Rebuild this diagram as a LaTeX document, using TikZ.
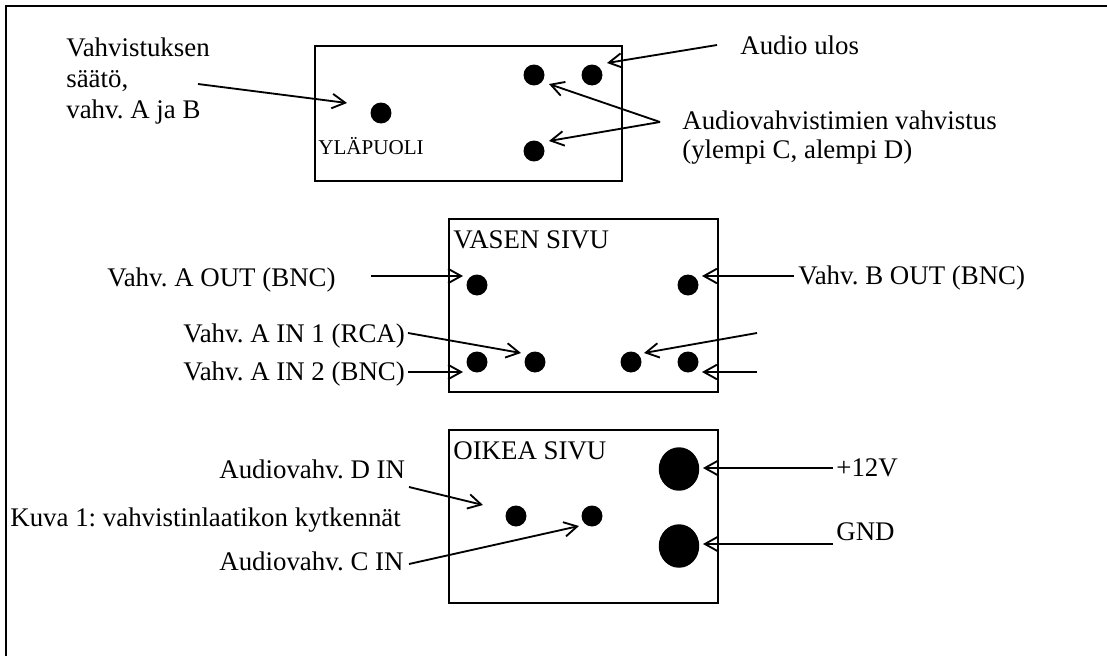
\documentclass[tikz,border=0pt]{standalone}
\usepackage{fontspec}
\setmainfont{Liberation Serif}
\usetikzlibrary{arrows.meta, shapes.geometric}
\tikzset{
  labeltext/.style={anchor=base west, inner sep=0pt, font=\fontsize{15.3}{17.4}\selectfont\frenchspacing},
  smalltext/.style={anchor=base west, inner sep=0pt, font=\fontsize{12}{14}\selectfont\frenchspacing},
  housing/.style={draw=black, line width=1.1pt, anchor=north west, inner sep=0pt},
  jack/.style={circle, fill=black, inner sep=0pt, minimum size=0.42cm},
  powerjack/.style={ellipse, fill=black, inner sep=0pt, minimum width=0.81cm, minimum height=0.87cm},
  lead/.style={-{Straight Barb[length=2.6mm, width=2.9mm]}, line width=1.05pt, black}
}

\begin{document}
\begin{tikzpicture}[x=0.02cm, y=-0.02cm]
\useasboundingbox (0,0) rectangle (1107,656);

% ── Frame ─────────────────────────────────────────────────────────────────────
\draw[line width=1.1pt] (6,656) -- (6,6) -- (1107,6);

% ── Top side ──────────────────────────────────────────────────────────────────
\node[housing, minimum width=6.14cm, minimum height=2.70cm] (topbox) at (314,45) {};
\node[smalltext] (toptitle) at (318,154) {YLÄPUOLI};
\node[jack] (gainAB) at (381,113) {};
\node[jack] (gainC) at (534,75) {};
\node[jack] (audioOut) at (592,75) {};
\node[jack] (gainD) at (534,151) {};

\node[labeltext, align=left] (gainlabel) at (66,118) {Vahvistuksen\\säätö,\\vahv. A ja B};
\node[labeltext] (audiolabel) at (740,54) {Audio ulos};
\node[labeltext, align=left, font=\fontsize{15.3}{16.5}\selectfont\frenchspacing] (audiogain) at (682,158) {Audiovahvistimien vahvistus\\(ylempi C, alempi D)};

\coordinate (gainTail) at (198,84);
\coordinate (gainTip) at (347,103);
\coordinate (audioTail) at (717,45);
\coordinate (audioTip) at (607,63);
\coordinate (fork) at (660,122);
\coordinate (forkC) at (549,84);
\coordinate (forkD) at (549,141);

\draw[lead] (gainTail) -- (gainTip);
\draw[lead] (audioTail) -- (audioTip);
\draw[lead] (fork) -- (forkC);
\draw[lead] (fork) -- (forkD);

% ── Left side ─────────────────────────────────────────────────────────────────
\node[housing, minimum width=5.38cm, minimum height=3.46cm] (leftbox) at (448,218) {};
\node[labeltext] (lefttitle) at (453,248) {VASEN SIVU};
\node[jack] (outA) at (477,285) {};
\node[jack] (outB) at (688,285) {};
\node[jack] (inA2) at (477,362) {};
\node[jack] (inA1) at (535,362) {};
\node[jack] (inB1) at (631,362) {};
\node[jack] (inB2) at (688,362) {};

\node[labeltext] (outAlabel) at (107,286) {Vahv. A OUT (BNC)};
\node[labeltext] (outBlabel) at (798,284) {Vahv. B OUT (BNC)};
\node[labeltext] (inA1label) at (183,342) {Vahv. A IN 1 (RCA)};
\node[labeltext] (inA2label) at (183,380) {Vahv. A IN 2 (BNC)};

\coordinate (outATail) at (371,276);
\coordinate (outATip) at (463,276);
\coordinate (outBTail) at (794,276);
\coordinate (outBTip) at (702,276);
\coordinate (inA1Tail) at (408,333);
\coordinate (inA1Tip) at (521,353);
\coordinate (inA2Tail) at (408,372);
\coordinate (inA2Tip) at (463,372);
\coordinate (inB1Tail) at (757,333);
\coordinate (inB1Tip) at (644,353);
\coordinate (inB2Tail) at (757,372);
\coordinate (inB2Tip) at (702,372);

\draw[lead] (outATail) -- (outATip);
\draw[lead] (outBTail) -- (outBTip);
\draw[lead] (inA1Tail) -- (inA1Tip);
\draw[lead] (inA2Tail) -- (inA2Tip);
\draw[lead] (inB1Tail) -- (inB1Tip);
\draw[lead] (inB2Tail) -- (inB2Tip);

% ── Right side ────────────────────────────────────────────────────────────────
\node[housing, minimum width=5.38cm, minimum height=3.46cm] (rightbox) at (448,429) {};
\node[labeltext] (righttitle) at (453,459) {OIKEA SIVU};
\node[jack] (inD) at (516,516) {};
\node[jack] (inC) at (592,516) {};
\node[powerjack] (plus) at (679,469) {};
\node[powerjack] (ground) at (679,546) {};

\node[labeltext] (inDlabel) at (219,478) {Audiovahv. D IN};
\node[labeltext] (caption) at (10,526) {Kuva 1: vahvistinlaatikon kytkennät};
\node[labeltext] (inClabel) at (219,570) {Audiovahv. C IN};
\node[labeltext] (pluslabel) at (836,476) {+12V};
\node[labeltext] (groundlabel) at (836,540) {GND};

\coordinate (inDTail) at (409,487);
\coordinate (inDTip) at (483,505);
\coordinate (inCTail) at (409,564);
\coordinate (inCTip) at (579,526);
\coordinate (plusTail) at (833,468);
\coordinate (plusTip) at (703,468);
\coordinate (groundTail) at (833,544);
\coordinate (groundTip) at (703,544);

\draw[lead] (inDTail) -- (inDTip);
\draw[lead] (inCTail) -- (inCTip);
\draw[lead] (plusTail) -- (plusTip);
\draw[lead] (groundTail) -- (groundTip);

\end{tikzpicture}
\end{document}
